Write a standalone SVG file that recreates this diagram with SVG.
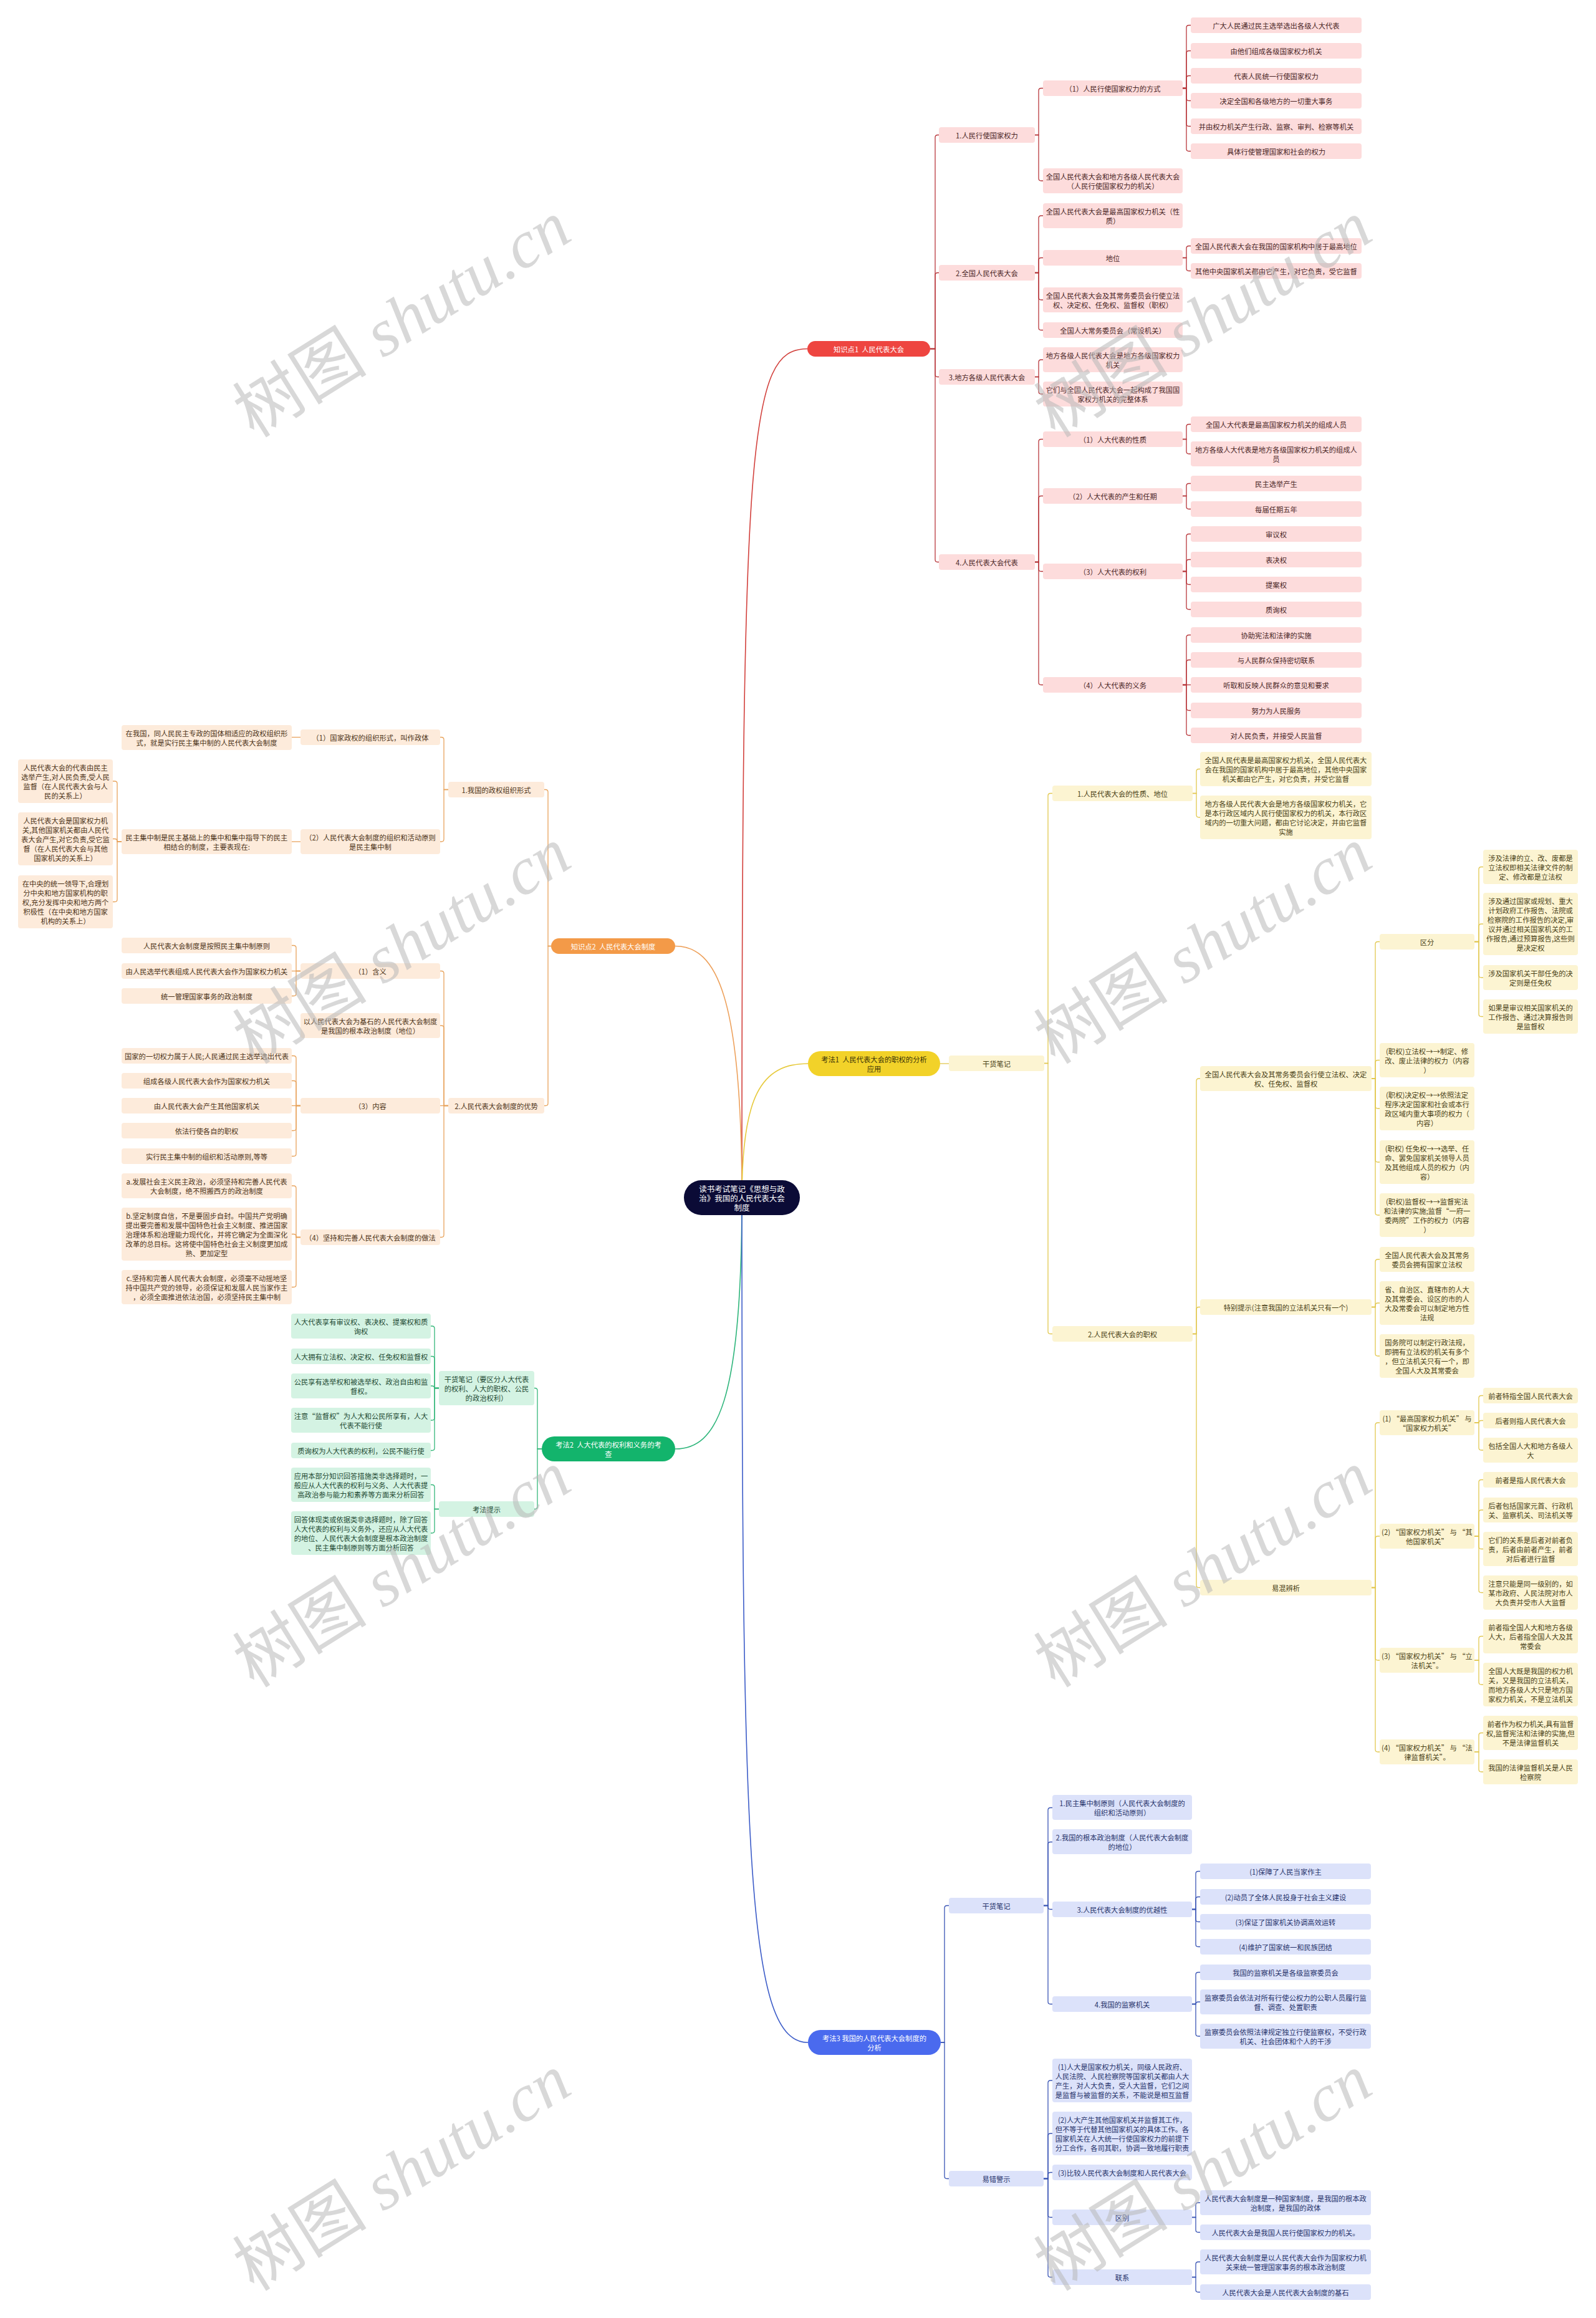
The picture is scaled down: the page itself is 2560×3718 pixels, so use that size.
<svg xmlns="http://www.w3.org/2000/svg" width="2560" height="3718" viewBox="0 0 2560 3718">
<style>
.n rect{rx:4px;ry:4px}
text{font-family:"Noto Sans CJK SC","Liberation Sans",sans-serif;font-size:11.3px;text-anchor:middle;dominant-baseline:central}
.r rect{fill:#FDDCDC}.r text{fill:#4a2626}
.o rect{fill:#FDEBDB}.o text{fill:#4d3418}
.y rect{fill:#FCF4D2}.y text{fill:#4a4216}
.g rect{fill:#D4F3E3}.g text{fill:#1e4a33}
.b rect{fill:#DCE2FA}.b text{fill:#27336b}
.c path{fill:none;stroke-width:1.3}
.cr path{stroke:#B8383C}.co path{stroke:#E8A35C}.cy path{stroke:#E2C850}.cg path{stroke:#35B77A}.cb path{stroke:#3A55B5}
.main path{fill:none;stroke-width:1.6}
.wm{font-family:"Liberation Serif","Noto Sans CJK SC",serif;font-size:108px;fill:#b8b8b8;fill-opacity:0.55;text-anchor:middle;dominant-baseline:central}
</style>
<rect width="2560" height="3718" fill="#ffffff"/>

<g id="connectors">
<g class="main">
<path d="M1190,1921 C1190,700 1200,559.5 1295,559.5" stroke="#D2403C"/>
<path d="M1190,1921 C1190,1600 1150,1517.5 1083,1517.5" stroke="#EDA05A"/>
<path d="M1190,1921 C1190,1760 1220,1706 1296,1706" stroke="#E6C93A"/>
<path d="M1190,1921 C1190,2250 1150,2324 1083,2324" stroke="#2DB57A"/>
<path d="M1190,1921 C1190,3000 1200,3276 1296,3276" stroke="#3C5CC8"/>
</g>
<g class="c cr">
<path d="M1492,559.5H1500V220.5Q1500,216.5 1504,216.5H1506"/>
<path d="M1492,559.5H1500V441.5Q1500,437.5 1504,437.5H1506"/>
<path d="M1492,559.5H1500V600.5Q1500,604.5 1504,604.5H1506"/>
<path d="M1492,559.5H1500V897.5Q1500,901.5 1504,901.5H1506"/>
<path d="M1660,216.5H1666V145.5Q1666,141.5 1670,141.5H1673"/>
<path d="M1660,216.5H1666V286Q1666,290 1670,290H1673"/>
<path d="M1660,437.5H1666V350Q1666,346 1670,346H1673"/>
<path d="M1660,437.5H1666V417.5Q1666,413.5 1670,413.5H1673"/>
<path d="M1660,437.5H1666V477Q1666,481 1670,481H1673"/>
<path d="M1660,437.5H1666V525.5Q1666,529.5 1670,529.5H1673"/>
<path d="M1660,604.5H1666V581Q1666,577 1670,577H1673"/>
<path d="M1660,604.5H1666V628Q1666,632 1670,632H1673"/>
<path d="M1660,901.5H1666V708.5Q1666,704.5 1670,704.5H1673"/>
<path d="M1660,901.5H1666V799.5Q1666,795.5 1670,795.5H1673"/>
<path d="M1660,901.5H1666V912.5Q1666,916.5 1670,916.5H1673"/>
<path d="M1660,901.5H1666V1094.5Q1666,1098.5 1670,1098.5H1673"/>
<path d="M1897,141.5H1903V44.5Q1903,40.5 1907,40.5H1910"/>
<path d="M1897,141.5H1903V85.5Q1903,81.5 1907,81.5H1910"/>
<path d="M1897,141.5H1903V125.5Q1903,121.5 1907,121.5H1910"/>
<path d="M1897,141.5H1903V157.5Q1903,161.5 1907,161.5H1910"/>
<path d="M1897,141.5H1903V198.5Q1903,202.5 1907,202.5H1910"/>
<path d="M1897,141.5H1903V238.5Q1903,242.5 1907,242.5H1910"/>
<path d="M1897,413.5H1903V398.5Q1903,394.5 1907,394.5H1910"/>
<path d="M1897,413.5H1903V430.5Q1903,434.5 1907,434.5H1910"/>
<path d="M1897,704.5H1903V684.5Q1903,680.5 1907,680.5H1910"/>
<path d="M1897,704.5H1903V724Q1903,728 1907,728H1910"/>
<path d="M1897,795.5H1903V779.5Q1903,775.5 1907,775.5H1910"/>
<path d="M1897,795.5H1903V812.5Q1903,816.5 1907,816.5H1910"/>
<path d="M1897,916.5H1903V860.5Q1903,856.5 1907,856.5H1910"/>
<path d="M1897,916.5H1903V901.5Q1903,897.5 1907,897.5H1910"/>
<path d="M1897,916.5H1903V933.5Q1903,937.5 1907,937.5H1910"/>
<path d="M1897,916.5H1903V973.5Q1903,977.5 1907,977.5H1910"/>
<path d="M1897,1098.5H1903V1022.5Q1903,1018.5 1907,1018.5H1910"/>
<path d="M1897,1098.5H1903V1062.5Q1903,1058.5 1907,1058.5H1910"/>
<path d="M1897,1098.5H1910"/>
<path d="M1897,1098.5H1903V1135.5Q1903,1139.5 1907,1139.5H1910"/>
<path d="M1897,1098.5H1903V1175.5Q1903,1179.5 1907,1179.5H1910"/>
</g>
<g class="c cy">
<path d="M1508,1706H1522"/>
<path d="M1675,1705.5H1681V1276.5Q1681,1272.5 1685,1272.5H1688"/>
<path d="M1675,1705.5H1681V2135.5Q1681,2139.5 1685,2139.5H1688"/>
<path d="M1913,1272.5H1919V1237.5Q1919,1233.5 1923,1233.5H1925"/>
<path d="M1913,1272.5H1919V1307Q1919,1311 1923,1311H1925"/>
<path d="M1913,2139.5H1919V1734Q1919,1730 1923,1730H1925"/>
<path d="M1913,2139.5H1919V2100.5Q1919,2096.5 1923,2096.5H1925"/>
<path d="M1913,2139.5H1919V2542.5Q1919,2546.5 1923,2546.5H1925"/>
<path d="M2200,1730H2206V1514.5Q2206,1510.5 2210,1510.5H2213"/>
<path d="M2200,1730H2206V1704.5Q2206,1700.5 2210,1700.5H2213"/>
<path d="M2200,1730H2206V1774Q2206,1778 2210,1778H2213"/>
<path d="M2200,1730H2206V1860Q2206,1864 2210,1864H2213"/>
<path d="M2200,1730H2206V1945Q2206,1949 2210,1949H2213"/>
<path d="M2200,2096.5H2206V2024Q2206,2020 2210,2020H2213"/>
<path d="M2200,2096.5H2206V2094Q2206,2090 2210,2090H2213"/>
<path d="M2200,2096.5H2206V2171Q2206,2175 2210,2175H2213"/>
<path d="M2200,2546.5H2206V2286Q2206,2282 2210,2282H2213"/>
<path d="M2200,2546.5H2206V2468Q2206,2464 2210,2464H2213"/>
<path d="M2200,2546.5H2206V2659Q2206,2663 2210,2663H2213"/>
<path d="M2200,2546.5H2206V2806Q2206,2810 2210,2810H2213"/>
<path d="M2365,1510.5H2372V1394.5Q2372,1390.5 2376,1390.5H2379"/>
<path d="M2365,1510.5H2372V1486Q2372,1482 2376,1482H2379"/>
<path d="M2365,1510.5H2372V1564Q2372,1568 2376,1568H2379"/>
<path d="M2365,1510.5H2372V1626.5Q2372,1630.5 2376,1630.5H2379"/>
<path d="M2365,2282H2372V2242.5Q2372,2238.5 2376,2238.5H2379"/>
<path d="M2365,2282H2372V2282.5Q2372,2278.5 2376,2278.5H2379"/>
<path d="M2365,2282H2372V2322Q2372,2326 2376,2326H2379"/>
<path d="M2365,2464H2372V2377.5Q2372,2373.5 2376,2373.5H2379"/>
<path d="M2365,2464H2372V2426Q2372,2422 2376,2422H2379"/>
<path d="M2365,2464H2372V2480.5Q2372,2484.5 2376,2484.5H2379"/>
<path d="M2365,2464H2372V2550.5Q2372,2554.5 2376,2554.5H2379"/>
<path d="M2365,2663H2372V2628.5Q2372,2624.5 2376,2624.5H2379"/>
<path d="M2365,2663H2372V2698Q2372,2702 2376,2702H2379"/>
<path d="M2365,2810H2372V2783.5Q2372,2779.5 2376,2779.5H2379"/>
<path d="M2365,2810H2372V2838Q2372,2842 2376,2842H2379"/>
</g>
<g class="c co">
<path d="M884,1517.5H879V1270.5Q879,1266.5 875,1266.5H873"/>
<path d="M884,1517.5H879V1769.5Q879,1773.5 875,1773.5H873"/>
<path d="M719,1266.5H712V1186.5Q712,1182.5 708,1182.5H706"/>
<path d="M719,1266.5H712V1346Q712,1350 708,1350H706"/>
<path d="M719,1773.5H712V1561.5Q712,1557.5 708,1557.5H706"/>
<path d="M719,1773.5H712V1649Q712,1645 708,1645H706"/>
<path d="M719,1773.5H706"/>
<path d="M719,1773.5H712V1980.5Q712,1984.5 708,1984.5H706"/>
<path d="M482,1182.5H468"/>
<path d="M482,1350H468"/>
<path d="M482,1557.5H475V1520.5Q475,1516.5 471,1516.5H468"/>
<path d="M482,1557.5H468"/>
<path d="M482,1557.5H475V1593.5Q475,1597.5 471,1597.5H468"/>
<path d="M482,1773.5H475V1697.5Q475,1693.5 471,1693.5H468"/>
<path d="M482,1773.5H475V1737.5Q475,1733.5 471,1733.5H468"/>
<path d="M482,1773.5H468"/>
<path d="M482,1773.5H475V1809.5Q475,1813.5 471,1813.5H468"/>
<path d="M482,1773.5H475V1850.5Q475,1854.5 471,1854.5H468"/>
<path d="M482,1984.5H475V1906Q475,1902 471,1902H468"/>
<path d="M482,1984.5H475V1983.5Q475,1979.5 471,1979.5H468"/>
<path d="M482,1984.5H475V2060.5Q475,2064.5 471,2064.5H468"/>
<path d="M195,1350H188V1257Q188,1253 184,1253H181"/>
<path d="M195,1350H188V1349.5Q188,1345.5 184,1345.5H181"/>
<path d="M195,1350H188V1442.5Q188,1446.5 184,1446.5H181"/>
</g>
<g class="c cg">
<path d="M869,2324H862V2230.5Q862,2226.5 858,2226.5H857"/>
<path d="M869,2324H862V2416.5Q862,2420.5 858,2420.5H857"/>
<path d="M704,2226.5H697V2131Q697,2127 693,2127H691"/>
<path d="M704,2226.5H697V2179.5Q697,2175.5 693,2175.5H691"/>
<path d="M704,2226.5H697V2227Q697,2223 693,2223H691"/>
<path d="M704,2226.5H697V2274Q697,2278 693,2278H691"/>
<path d="M704,2226.5H697V2322.5Q697,2326.5 693,2326.5H691"/>
<path d="M704,2420.5H697V2385.5Q697,2381.5 693,2381.5H691"/>
<path d="M704,2420.5H697V2455Q697,2459 693,2459H691"/>
</g>
<g class="c cb">
<path d="M1509,3276H1515V3060.5Q1515,3056.5 1519,3056.5H1522"/>
<path d="M1509,3276H1515V3490.5Q1515,3494.5 1519,3494.5H1522"/>
<path d="M1674,3056.5H1681V2903.5Q1681,2899.5 1685,2899.5H1688"/>
<path d="M1674,3056.5H1681V2958.5Q1681,2954.5 1685,2954.5H1688"/>
<path d="M1674,3056.5H1681V3058.5Q1681,3062.5 1685,3062.5H1688"/>
<path d="M1674,3056.5H1681V3210.5Q1681,3214.5 1685,3214.5H1688"/>
<path d="M1674,3494.5H1681V3341Q1681,3337 1685,3337H1688"/>
<path d="M1674,3494.5H1681V3426Q1681,3422 1685,3422H1688"/>
<path d="M1674,3494.5H1681V3488.5Q1681,3484.5 1685,3484.5H1688"/>
<path d="M1674,3494.5H1681V3552.5Q1681,3556.5 1685,3556.5H1688"/>
<path d="M1674,3494.5H1681V3648.5Q1681,3652.5 1685,3652.5H1688"/>
<path d="M1912,3062.5H1918V3005.5Q1918,3001.5 1922,3001.5H1925"/>
<path d="M1912,3062.5H1918V3046.5Q1918,3042.5 1922,3042.5H1925"/>
<path d="M1912,3062.5H1918V3078.5Q1918,3082.5 1922,3082.5H1925"/>
<path d="M1912,3062.5H1918V3118.5Q1918,3122.5 1922,3122.5H1925"/>
<path d="M1912,3214.5H1918V3167.5Q1918,3163.5 1922,3163.5H1925"/>
<path d="M1912,3214.5H1918V3215Q1918,3211 1922,3211H1925"/>
<path d="M1912,3214.5H1918V3262Q1918,3266 1922,3266H1925"/>
<path d="M1912,3556.5H1918V3537Q1918,3533 1922,3533H1925"/>
<path d="M1912,3556.5H1918V3576.5Q1918,3580.5 1922,3580.5H1925"/>
<path d="M1912,3652.5H1918V3632Q1918,3628 1922,3628H1925"/>
<path d="M1912,3652.5H1918V3672.5Q1918,3676.5 1922,3676.5H1925"/>
</g>
</g>

<g id="root"><rect x="1097" y="1893" width="186" height="56" rx="28" fill="#0B0B36"/><text fill="#ffffff" style="font-size:12.5px"><tspan x="1190" y="1906">读书考试笔记《思想与政</tspan><tspan x="1190" y="1921">治》我国的人民代表大会</tspan><tspan x="1190" y="1936">制度</tspan></text></g>

<g id="k1"><rect x="1295" y="547" width="197" height="25" rx="12.5" fill="#EE4540"/><text x="1393.5" y="559.5" fill="#ffffff">知识点1&#160;&#160;人民代表大会</text></g>
<g id="k2"><rect x="884" y="1505" width="199" height="25" rx="12.5" fill="#F39A48"/><text x="983.5" y="1517.5" fill="#ffffff">知识点2&#160;&#160;人民代表大会制度</text></g>
<g id="f1"><rect x="1296" y="1686" width="212" height="40" rx="20" fill="#F2D229"/><text fill="#3a3208"><tspan x="1402" y="1698.5">考法1&#160;&#160;人民代表大会的职权的分析</tspan><tspan x="1402" y="1713.5">应用</tspan></text></g>
<g id="f2"><rect x="869" y="2304" width="214" height="40" rx="20" fill="#13B46C"/><text fill="#ffffff"><tspan x="976" y="2316.5">考法2&#160;&#160;人大代表的权利和义务的考</tspan><tspan x="976" y="2331.5">查</tspan></text></g>
<g id="f3"><rect x="1296" y="3256" width="213" height="40" rx="20" fill="#4A6AEE"/><text fill="#ffffff"><tspan x="1402.5" y="3268.5">考法3 我国的人民代表大会制度的</tspan><tspan x="1402.5" y="3283.5">分析</tspan></text></g>

<!-- Red branch -->
<g id="r1" class="n r"><rect x="1506" y="204" width="154" height="25"/><text x="1583" y="216.5">1.人民行使国家权力</text></g>
<g id="r2" class="n r"><rect x="1506" y="425" width="154" height="25"/><text x="1583" y="437.5">2.全国人民代表大会</text></g>
<g id="r3" class="n r"><rect x="1506" y="592" width="154" height="25"/><text x="1583" y="604.5">3.地方各级人民代表大会</text></g>
<g id="r4" class="n r"><rect x="1506" y="889" width="154" height="25"/><text x="1583" y="901.5">4.人民代表大会代表</text></g>
<g id="r1a" class="n r"><rect x="1673" y="129" width="224" height="25"/><text x="1785" y="141.5">（1）人民行使国家权力的方式</text></g>
<g id="r1b" class="n r"><rect x="1673" y="270" width="224" height="40"/><text><tspan x="1785" y="282.5">全国人民代表大会和地方各级人民代表大会</tspan><tspan x="1785" y="297.5">（人民行使国家权力的机关）</tspan></text></g>
<g id="r2a" class="n r"><rect x="1673" y="326" width="224" height="40"/><text><tspan x="1785" y="338.5">全国人民代表大会是最高国家权力机关（性</tspan><tspan x="1785" y="353.5">质）</tspan></text></g>
<g id="r2b" class="n r"><rect x="1673" y="401" width="224" height="25"/><text x="1785" y="413.5">地位</text></g>
<g id="r2c" class="n r"><rect x="1673" y="461" width="224" height="40"/><text><tspan x="1785" y="473.5">全国人民代表大会及其常务委员会行使立法</tspan><tspan x="1785" y="488.5">权、决定权、任免权、监督权（职权）</tspan></text></g>
<g id="r2d" class="n r"><rect x="1673" y="517" width="224" height="25"/><text x="1785" y="529.5">全国人大常务委员会（常设机关）</text></g>
<g id="r3a" class="n r"><rect x="1673" y="557" width="224" height="40"/><text><tspan x="1785" y="569.5">地方各级人民代表大会是地方各级国家权力</tspan><tspan x="1785" y="584.5">机关</tspan></text></g>
<g id="r3b" class="n r"><rect x="1673" y="612" width="224" height="40"/><text><tspan x="1785" y="624.5">它们与全国人民代表大会一起构成了我国国</tspan><tspan x="1785" y="639.5">家权力机关的完整体系</tspan></text></g>
<g id="r4a" class="n r"><rect x="1673" y="692" width="224" height="25"/><text x="1785" y="704.5">（1）人大代表的性质</text></g>
<g id="r4b" class="n r"><rect x="1673" y="783" width="224" height="25"/><text x="1785" y="795.5">（2）人大代表的产生和任期</text></g>
<g id="r4c" class="n r"><rect x="1673" y="904" width="224" height="25"/><text x="1785" y="916.5">（3）人大代表的权利</text></g>
<g id="r4d" class="n r"><rect x="1673" y="1086" width="224" height="25"/><text x="1785" y="1098.5">（4）人大代表的义务</text></g>
<g id="r1a1" class="n r"><rect x="1910" y="28" width="274" height="25"/><text x="2047" y="40.5">广大人民通过民主选举选出各级人大代表</text></g>
<g id="r1a2" class="n r"><rect x="1910" y="69" width="274" height="25"/><text x="2047" y="81.5">由他们组成各级国家权力机关</text></g>
<g id="r1a3" class="n r"><rect x="1910" y="109" width="274" height="25"/><text x="2047" y="121.5">代表人民统一行使国家权力</text></g>
<g id="r1a4" class="n r"><rect x="1910" y="149" width="274" height="25"/><text x="2047" y="161.5">决定全国和各级地方的一切重大事务</text></g>
<g id="r1a5" class="n r"><rect x="1910" y="190" width="274" height="25"/><text x="2047" y="202.5">并由权力机关产生行政、监察、审判、检察等机关</text></g>
<g id="r1a6" class="n r"><rect x="1910" y="230" width="274" height="25"/><text x="2047" y="242.5">具体行使管理国家和社会的权力</text></g>
<g id="r2b1" class="n r"><rect x="1910" y="382" width="274" height="25"/><text x="2047" y="394.5">全国人民代表大会在我国的国家机构中居于最高地位</text></g>
<g id="r2b2" class="n r"><rect x="1910" y="422" width="274" height="25"/><text x="2047" y="434.5">其他中央国家机关都由它产生，对它负责，受它监督</text></g>
<g id="r4a1" class="n r"><rect x="1910" y="668" width="274" height="25"/><text x="2047" y="680.5">全国人大代表是最高国家权力机关的组成人员</text></g>
<g id="r4a2" class="n r"><rect x="1910" y="708" width="274" height="40"/><text><tspan x="2047" y="720.5">地方各级人大代表是地方各级国家权力机关的组成人</tspan><tspan x="2047" y="735.5">员</tspan></text></g>
<g id="r4b1" class="n r"><rect x="1910" y="763" width="274" height="25"/><text x="2047" y="775.5">民主选举产生</text></g>
<g id="r4b2" class="n r"><rect x="1910" y="804" width="274" height="25"/><text x="2047" y="816.5">每届任期五年</text></g>
<g id="r4c1" class="n r"><rect x="1910" y="844" width="274" height="25"/><text x="2047" y="856.5">审议权</text></g>
<g id="r4c2" class="n r"><rect x="1910" y="885" width="274" height="25"/><text x="2047" y="897.5">表决权</text></g>
<g id="r4c3" class="n r"><rect x="1910" y="925" width="274" height="25"/><text x="2047" y="937.5">提案权</text></g>
<g id="r4c4" class="n r"><rect x="1910" y="965" width="274" height="25"/><text x="2047" y="977.5">质询权</text></g>
<g id="r4d1" class="n r"><rect x="1910" y="1006" width="274" height="25"/><text x="2047" y="1018.5">协助宪法和法律的实施</text></g>
<g id="r4d2" class="n r"><rect x="1910" y="1046" width="274" height="25"/><text x="2047" y="1058.5">与人民群众保持密切联系</text></g>
<g id="r4d3" class="n r"><rect x="1910" y="1086" width="274" height="25"/><text x="2047" y="1098.5">听取和反映人民群众的意见和要求</text></g>
<g id="r4d4" class="n r"><rect x="1910" y="1127" width="274" height="25"/><text x="2047" y="1139.5">努力为人民服务</text></g>
<g id="r4d5" class="n r"><rect x="1910" y="1167" width="274" height="25"/><text x="2047" y="1179.5">对人民负责，并接受人民监督</text></g>

<!-- Yellow branch -->
<g id="y0" class="n y"><rect x="1522" y="1693" width="153" height="25"/><text x="1598.5" y="1705.5">干货笔记</text></g>
<g id="y1a" class="n y"><rect x="1688" y="1260" width="225" height="25"/><text x="1800.5" y="1272.5">1.人民代表大会的性质、地位</text></g>
<g id="y1b" class="n y"><rect x="1688" y="2127" width="225" height="25"/><text x="1800.5" y="2139.5">2.人民代表大会的职权</text></g>
<g id="y1a1" class="n y"><rect x="1925" y="1206" width="275" height="55"/><text><tspan x="2062.5" y="1218.5">全国人民代表是最高国家权力机关，全国人民代表大</tspan><tspan x="2062.5" y="1233.5">会在我国的国家机构中居于最高地位，其他中央国家</tspan><tspan x="2062.5" y="1248.5">机关都由它产生，对它负责，并受它监督</tspan></text></g>
<g id="y1a2" class="n y"><rect x="1925" y="1276" width="275" height="70"/><text><tspan x="2062.5" y="1288.5">地方各级人民代表大会是地方各级国家权力机关，它</tspan><tspan x="2062.5" y="1303.5">是本行政区域内人民行使国家权力的机关，本行政区</tspan><tspan x="2062.5" y="1318.5">域内的一切重大问题，都由它讨论决定，并由它监督</tspan><tspan x="2062.5" y="1333.5">实施</tspan></text></g>
<g id="y1b1" class="n y"><rect x="1925" y="1710" width="275" height="40"/><text><tspan x="2062.5" y="1722.5">全国人民代表大会及其常务委员会行使立法权、决定</tspan><tspan x="2062.5" y="1737.5">权、任免权、监督权</tspan></text></g>
<g id="y1b2" class="n y"><rect x="1925" y="2084" width="275" height="25"/><text x="2062.5" y="2096.5">特别提示(注意我国的立法机关只有一个)</text></g>
<g id="y1b3" class="n y"><rect x="1925" y="2534" width="275" height="25"/><text x="2062.5" y="2546.5">易混辨析</text></g>
<g id="y5a" class="n y"><rect x="2213" y="1498" width="152" height="25"/><text x="2289" y="1510.5">区分</text></g>
<g id="y5b" class="n y"><rect x="2213" y="1673" width="152" height="55"/><text><tspan x="2289" y="1685.5">(职权)立法权→→制定、修</tspan><tspan x="2289" y="1700.5">改、废止法律的权力（内容</tspan><tspan x="2289" y="1715.5">）</tspan></text></g>
<g id="y5c" class="n y"><rect x="2213" y="1743" width="152" height="70"/><text><tspan x="2289" y="1755.5">(职权)决定权→→依照法定</tspan><tspan x="2289" y="1770.5">程序决定国家和社会或本行</tspan><tspan x="2289" y="1785.5">政区域内重大事项的权力（</tspan><tspan x="2289" y="1800.5">内容）</tspan></text></g>
<g id="y5d" class="n y"><rect x="2213" y="1829" width="152" height="70"/><text><tspan x="2289" y="1841.5">(职权) 任免权→→选举、任</tspan><tspan x="2289" y="1856.5">命、罢免国家机关领导人员</tspan><tspan x="2289" y="1871.5">及其他组成人员的权力（内</tspan><tspan x="2289" y="1886.5">容）</tspan></text></g>
<g id="y5e" class="n y"><rect x="2213" y="1914" width="152" height="70"/><text><tspan x="2289" y="1926.5">(职权)监督权→→监督宪法</tspan><tspan x="2289" y="1941.5">和法律的实施;监督“一府一</tspan><tspan x="2289" y="1956.5">委两院”工作的权力（内容</tspan><tspan x="2289" y="1971.5">）</tspan></text></g>
<g id="y5f" class="n y"><rect x="2213" y="2000" width="152" height="40"/><text><tspan x="2289" y="2012.5">全国人民代表大会及其常务</tspan><tspan x="2289" y="2027.5">委员会拥有国家立法权</tspan></text></g>
<g id="y5g" class="n y"><rect x="2213" y="2055" width="152" height="70"/><text><tspan x="2289" y="2067.5">省、自治区、直辖市的人大</tspan><tspan x="2289" y="2082.5">及其常委会、设区的市的人</tspan><tspan x="2289" y="2097.5">大及常委会可以制定地方性</tspan><tspan x="2289" y="2112.5">法规</tspan></text></g>
<g id="y5h" class="n y"><rect x="2213" y="2140" width="152" height="70"/><text><tspan x="2289" y="2152.5">国务院可以制定行政法规，</tspan><tspan x="2289" y="2167.5">即拥有立法权的机关有多个</tspan><tspan x="2289" y="2182.5">，但立法机关只有一个，即</tspan><tspan x="2289" y="2197.5">全国人大及其常委会</tspan></text></g>
<g id="y5i" class="n y"><rect x="2213" y="2262" width="152" height="40"/><text><tspan x="2289" y="2274.5">(1) “最高国家权力机关” 与</tspan><tspan x="2289" y="2289.5">“国家权力机关”</tspan></text></g>
<g id="y5j" class="n y"><rect x="2213" y="2444" width="152" height="40"/><text><tspan x="2289" y="2456.5">(2) “国家权力机关” 与 “其</tspan><tspan x="2289" y="2471.5">他国家机关”</tspan></text></g>
<g id="y5k" class="n y"><rect x="2213" y="2643" width="152" height="40"/><text><tspan x="2289" y="2655.5">(3) “国家权力机关” 与 “立</tspan><tspan x="2289" y="2670.5">法机关”。</tspan></text></g>
<g id="y5l" class="n y"><rect x="2213" y="2790" width="152" height="40"/><text><tspan x="2289" y="2802.5">(4) “国家权力机关” 与 “法</tspan><tspan x="2289" y="2817.5">律监督机关”。</tspan></text></g>
<g id="y6a" class="n y"><rect x="2379" y="1363" width="152" height="55"/><text><tspan x="2455" y="1375.5">涉及法律的立、改、废都是</tspan><tspan x="2455" y="1390.5">立法权即相关法律文件的制</tspan><tspan x="2455" y="1405.5">定、修改都是立法权</tspan></text></g>
<g id="y6b" class="n y"><rect x="2379" y="1432" width="152" height="100"/><text><tspan x="2455" y="1444.5">涉及通过国家或规划、重大</tspan><tspan x="2455" y="1459.5">计划政府工作报告、法院或</tspan><tspan x="2455" y="1474.5">检察院的工作报告的决定,审</tspan><tspan x="2455" y="1489.5">议并通过相关国家机关的工</tspan><tspan x="2455" y="1504.5">作报告,通过预算报告,这些则</tspan><tspan x="2455" y="1519.5">是决定权</tspan></text></g>
<g id="y6c" class="n y"><rect x="2379" y="1548" width="152" height="40"/><text><tspan x="2455" y="1560.5">涉及国家机关干部任免的决</tspan><tspan x="2455" y="1575.5">定则是任免权</tspan></text></g>
<g id="y6d" class="n y"><rect x="2379" y="1603" width="152" height="55"/><text><tspan x="2455" y="1615.5">如果是审议相关国家机关的</tspan><tspan x="2455" y="1630.5">工作报告、通过决算报告则</tspan><tspan x="2455" y="1645.5">是监督权</tspan></text></g>
<g id="y6e" class="n y"><rect x="2379" y="2226" width="152" height="25"/><text x="2455" y="2238.5">前者特指全国人民代表大会</text></g>
<g id="y6f" class="n y"><rect x="2379" y="2266" width="152" height="25"/><text x="2455" y="2278.5">后者则指人民代表大会</text></g>
<g id="y6g" class="n y"><rect x="2379" y="2306" width="152" height="40"/><text><tspan x="2455" y="2318.5">包括全国人大和地方各级人</tspan><tspan x="2455" y="2333.5">大</tspan></text></g>
<g id="y6h" class="n y"><rect x="2379" y="2361" width="152" height="25"/><text x="2455" y="2373.5">前者是指人民代表大会</text></g>
<g id="y6i" class="n y"><rect x="2379" y="2402" width="152" height="40"/><text><tspan x="2455" y="2414.5">后者包括国家元首、行政机</tspan><tspan x="2455" y="2429.5">关、监察机关、司法机关等</tspan></text></g>
<g id="y6j" class="n y"><rect x="2379" y="2457" width="152" height="55"/><text><tspan x="2455" y="2469.5">它们的关系是后者对前者负</tspan><tspan x="2455" y="2484.5">责，后者由前者产生，前者</tspan><tspan x="2455" y="2499.5">对后者进行监督</tspan></text></g>
<g id="y6k" class="n y"><rect x="2379" y="2527" width="152" height="55"/><text><tspan x="2455" y="2539.5">注意只能是同一级别的，如</tspan><tspan x="2455" y="2554.5">某市政府、人民法院对市人</tspan><tspan x="2455" y="2569.5">大负责并受市人大监督</tspan></text></g>
<g id="y6l" class="n y"><rect x="2379" y="2597" width="152" height="55"/><text><tspan x="2455" y="2609.5">前者指全国人大和地方各级</tspan><tspan x="2455" y="2624.5">人大，后者指全国人大及其</tspan><tspan x="2455" y="2639.5">常委会</tspan></text></g>
<g id="y6m" class="n y"><rect x="2379" y="2667" width="152" height="70"/><text><tspan x="2455" y="2679.5">全国人大既是我国的权力机</tspan><tspan x="2455" y="2694.5">关，又是我国的立法机关，</tspan><tspan x="2455" y="2709.5">而地方各级人大只是地方国</tspan><tspan x="2455" y="2724.5">家权力机关，不是立法机关</tspan></text></g>
<g id="y6n" class="n y"><rect x="2379" y="2752" width="152" height="55"/><text><tspan x="2455" y="2764.5">前者作为权力机关,具有监督</tspan><tspan x="2455" y="2779.5">权,监督宪法和法律的实施,但</tspan><tspan x="2455" y="2794.5">不是法律监督机关</tspan></text></g>
<g id="y6o" class="n y"><rect x="2379" y="2822" width="152" height="40"/><text><tspan x="2455" y="2834.5">我国的法律监督机关是人民</tspan><tspan x="2455" y="2849.5">检察院</tspan></text></g>

<!-- Orange branch -->
<g id="o1" class="n o"><rect x="719" y="1254" width="154" height="25"/><text x="796" y="1266.5">1.我国的政权组织形式</text></g>
<g id="o2" class="n o"><rect x="719" y="1761" width="154" height="25"/><text x="796" y="1773.5">2.人民代表大会制度的优势</text></g>
<g id="o1a" class="n o"><rect x="482" y="1170" width="224" height="25"/><text x="594" y="1182.5">（1）国家政权的组织形式，叫作政体</text></g>
<g id="o1b" class="n o"><rect x="482" y="1330" width="224" height="40"/><text><tspan x="594" y="1342.5">（2）人民代表大会制度的组织和活动原则</tspan><tspan x="594" y="1357.5">是民主集中制</tspan></text></g>
<g id="o2a" class="n o"><rect x="482" y="1545" width="224" height="25"/><text x="594" y="1557.5">（1）含义</text></g>
<g id="o2b" class="n o"><rect x="482" y="1625" width="224" height="40"/><text><tspan x="594" y="1637.5">以人民代表大会为基石的人民代表大会制度</tspan><tspan x="594" y="1652.5">是我国的根本政治制度（地位）</tspan></text></g>
<g id="o2c" class="n o"><rect x="482" y="1761" width="224" height="25"/><text x="594" y="1773.5">（3）内容</text></g>
<g id="o2d" class="n o"><rect x="482" y="1972" width="224" height="25"/><text x="594" y="1984.5">（4）坚持和完善人民代表大会制度的做法</text></g>
<g id="o1a1" class="n o"><rect x="195" y="1163" width="273" height="40"/><text><tspan x="331.5" y="1175.5">在我国，同人民民主专政的国体相适应的政权组织形</tspan><tspan x="331.5" y="1190.5">式，就是实行民主集中制的人民代表大会制度</tspan></text></g>
<g id="o1b1" class="n o"><rect x="195" y="1330" width="273" height="40"/><text><tspan x="331.5" y="1342.5">民主集中制是民主基础上的集中和集中指导下的民主</tspan><tspan x="331.5" y="1357.5">相结合的制度，主要表现在:</tspan></text></g>
<g id="o2a1" class="n o"><rect x="195" y="1504" width="273" height="25"/><text x="331.5" y="1516.5">人民代表大会制度是按照民主集中制原则</text></g>
<g id="o2a2" class="n o"><rect x="195" y="1545" width="273" height="25"/><text x="331.5" y="1557.5">由人民选举代表组成人民代表大会作为国家权力机关</text></g>
<g id="o2a3" class="n o"><rect x="195" y="1585" width="273" height="25"/><text x="331.5" y="1597.5">统一管理国家事务的政治制度</text></g>
<g id="o2c1" class="n o"><rect x="195" y="1681" width="273" height="25"/><text x="331.5" y="1693.5">国家的一切权力属于人民;人民通过民主选举选出代表</text></g>
<g id="o2c2" class="n o"><rect x="195" y="1721" width="273" height="25"/><text x="331.5" y="1733.5">组成各级人民代表大会作为国家权力机关</text></g>
<g id="o2c3" class="n o"><rect x="195" y="1761" width="273" height="25"/><text x="331.5" y="1773.5">由人民代表大会产生其他国家机关</text></g>
<g id="o2c4" class="n o"><rect x="195" y="1801" width="273" height="25"/><text x="331.5" y="1813.5">依法行使各自的职权</text></g>
<g id="o2c5" class="n o"><rect x="195" y="1842" width="273" height="25"/><text x="331.5" y="1854.5">实行民主集中制的组织和活动原则,等等</text></g>
<g id="o2d1" class="n o"><rect x="195" y="1882" width="273" height="40"/><text><tspan x="331.5" y="1894.5">a.发展社会主义民主政治，必须坚持和完善人民代表</tspan><tspan x="331.5" y="1909.5">大会制度，绝不照搬西方的政治制度</tspan></text></g>
<g id="o2d2" class="n o"><rect x="195" y="1937" width="273" height="85"/><text><tspan x="331.5" y="1949.5">b.坚定制度自信，不是要固步自封。中国共产党明确</tspan><tspan x="331.5" y="1964.5">提出要完善和发展中国特色社会主义制度、推进国家</tspan><tspan x="331.5" y="1979.5">治理体系和治理能力现代化，并将它确定为全面深化</tspan><tspan x="331.5" y="1994.5">改革的总目标。这将使中国特色社会主义制度更加成</tspan><tspan x="331.5" y="2009.5">熟、更加定型</tspan></text></g>
<g id="o2d3" class="n o"><rect x="195" y="2037" width="273" height="55"/><text><tspan x="331.5" y="2049.5">c.坚持和完善人民代表大会制度，必须毫不动摇地坚</tspan><tspan x="331.5" y="2064.5">持中国共产党的领导，必须保证和发展人民当家作主</tspan><tspan x="331.5" y="2079.5">，必须全面推进依法治国，必须坚持民主集中制</tspan></text></g>
<g id="o5a" class="n o"><rect x="29" y="1218" width="152" height="70"/><text><tspan x="105" y="1230.5">人民代表大会的代表由民主</tspan><tspan x="105" y="1245.5">选举产生,对人民负责,受人民</tspan><tspan x="105" y="1260.5">监督（在人民代表大会与人</tspan><tspan x="105" y="1275.5">民的关系上）</tspan></text></g>
<g id="o5b" class="n o"><rect x="29" y="1303" width="152" height="85"/><text><tspan x="105" y="1315.5">人民代表大会是国家权力机</tspan><tspan x="105" y="1330.5">关,其他国家机关都由人民代</tspan><tspan x="105" y="1345.5">表大会产生,对它负责,受它监</tspan><tspan x="105" y="1360.5">督（在人民代表大会与其他</tspan><tspan x="105" y="1375.5">国家机关的关系上）</tspan></text></g>
<g id="o5c" class="n o"><rect x="29" y="1404" width="152" height="85"/><text><tspan x="105" y="1416.5">在中央的统一领导下,合理划</tspan><tspan x="105" y="1431.5">分中央和地方国家机构的职</tspan><tspan x="105" y="1446.5">权,充分发挥中央和地方两个</tspan><tspan x="105" y="1461.5">积极性（在中央和地方国家</tspan><tspan x="105" y="1476.5">机构的关系上）</tspan></text></g>

<!-- Green branch -->
<g id="g1" class="n g"><rect x="704" y="2199" width="153" height="55"/><text><tspan x="780.5" y="2211.5">干货笔记（要区分人大代表</tspan><tspan x="780.5" y="2226.5">的权利、人大的职权、公民</tspan><tspan x="780.5" y="2241.5">的政治权利）</tspan></text></g>
<g id="g2" class="n g"><rect x="704" y="2408" width="153" height="25"/><text x="780.5" y="2420.5">考法提示</text></g>
<g id="g1a" class="n g"><rect x="467" y="2107" width="224" height="40"/><text><tspan x="579" y="2119.5">人大代表享有审议权、表决权、提案权和质</tspan><tspan x="579" y="2134.5">询权</tspan></text></g>
<g id="g1b" class="n g"><rect x="467" y="2163" width="224" height="25"/><text x="579" y="2175.5">人大拥有立法权、决定权、任免权和监督权</text></g>
<g id="g1c" class="n g"><rect x="467" y="2203" width="224" height="40"/><text><tspan x="579" y="2215.5">公民享有选举权和被选举权、政治自由和监</tspan><tspan x="579" y="2230.5">督权。</tspan></text></g>
<g id="g1d" class="n g"><rect x="467" y="2258" width="224" height="40"/><text><tspan x="579" y="2270.5">注意“监督权”为人大和公民所享有，人大</tspan><tspan x="579" y="2285.5">代表不能行使</tspan></text></g>
<g id="g1e" class="n g"><rect x="467" y="2314" width="224" height="25"/><text x="579" y="2326.5">质询权为人大代表的权利，公民不能行使</text></g>
<g id="g2a" class="n g"><rect x="467" y="2354" width="224" height="55"/><text><tspan x="579" y="2366.5">应用本部分知识回答措施类非选择题时，一</tspan><tspan x="579" y="2381.5">般应从人大代表的权利与义务、人大代表提</tspan><tspan x="579" y="2396.5">高政治参与能力和素养等方面来分析回答</tspan></text></g>
<g id="g2b" class="n g"><rect x="467" y="2424" width="224" height="70"/><text><tspan x="579" y="2436.5">回答体现类或依据类非选择题时，除了回答</tspan><tspan x="579" y="2451.5">人大代表的权利与义务外，还应从人大代表</tspan><tspan x="579" y="2466.5">的地位、人民代表大会制度是根本政治制度</tspan><tspan x="579" y="2481.5">、民主集中制原则等方面分析回答</tspan></text></g>

<!-- Blue branch -->
<g id="b1" class="n b"><rect x="1522" y="3044" width="152" height="25"/><text x="1598" y="3056.5">干货笔记</text></g>
<g id="b2" class="n b"><rect x="1522" y="3482" width="152" height="25"/><text x="1598" y="3494.5">易错警示</text></g>
<g id="b1a" class="n b"><rect x="1688" y="2879" width="224" height="40"/><text><tspan x="1800" y="2891.5">1.民主集中制原则（人民代表大会制度的</tspan><tspan x="1800" y="2906.5">组织和活动原则）</tspan></text></g>
<g id="b1b" class="n b"><rect x="1688" y="2934" width="224" height="40"/><text><tspan x="1800" y="2946.5">2.我国的根本政治制度（人民代表大会制度</tspan><tspan x="1800" y="2961.5">的地位）</tspan></text></g>
<g id="b1c" class="n b"><rect x="1688" y="3050" width="224" height="25"/><text x="1800" y="3062.5">3.人民代表大会制度的优越性</text></g>
<g id="b1d" class="n b"><rect x="1688" y="3202" width="224" height="25"/><text x="1800" y="3214.5">4.我国的监察机关</text></g>
<g id="b2a" class="n b"><rect x="1688" y="3302" width="224" height="70"/><text><tspan x="1800" y="3314.5">(1)人大是国家权力机关，同级人民政府、</tspan><tspan x="1800" y="3329.5">人民法院、人民检察院等国家机关都由人大</tspan><tspan x="1800" y="3344.5">产生，对人大负责，受人大监督，它们之间</tspan><tspan x="1800" y="3359.5">是监督与被监督的关系，不能说是相互监督</tspan></text></g>
<g id="b2b" class="n b"><rect x="1688" y="3387" width="224" height="70"/><text><tspan x="1800" y="3399.5">(2)人大产生其他国家机关并监督其工作，</tspan><tspan x="1800" y="3414.5">但不等于代替其他国家机关的具体工作。各</tspan><tspan x="1800" y="3429.5">国家机关在人大统一行使国家权力的前提下</tspan><tspan x="1800" y="3444.5">分工合作，各司其职，协调一致地履行职责</tspan></text></g>
<g id="b2c" class="n b"><rect x="1688" y="3472" width="224" height="25"/><text x="1800" y="3484.5">(3)比较人民代表大会制度和人民代表大会</text></g>
<g id="b2d" class="n b"><rect x="1688" y="3544" width="224" height="25"/><text x="1800" y="3556.5">区别</text></g>
<g id="b2e" class="n b"><rect x="1688" y="3640" width="224" height="25"/><text x="1800" y="3652.5">联系</text></g>
<g id="b1c1" class="n b"><rect x="1925" y="2989" width="274" height="25"/><text x="2062" y="3001.5">(1)保障了人民当家作主</text></g>
<g id="b1c2" class="n b"><rect x="1925" y="3030" width="274" height="25"/><text x="2062" y="3042.5">(2)动员了全体人民投身于社会主义建设</text></g>
<g id="b1c3" class="n b"><rect x="1925" y="3070" width="274" height="25"/><text x="2062" y="3082.5">(3)保证了国家机关协调高效运转</text></g>
<g id="b1c4" class="n b"><rect x="1925" y="3110" width="274" height="25"/><text x="2062" y="3122.5">(4)维护了国家统一和民族团结</text></g>
<g id="b1d1" class="n b"><rect x="1925" y="3151" width="274" height="25"/><text x="2062" y="3163.5">我国的监察机关是各级监察委员会</text></g>
<g id="b1d2" class="n b"><rect x="1925" y="3191" width="274" height="40"/><text><tspan x="2062" y="3203.5">监察委员会依法对所有行使公权力的公职人员履行监</tspan><tspan x="2062" y="3218.5">督、调查、处置职责</tspan></text></g>
<g id="b1d3" class="n b"><rect x="1925" y="3246" width="274" height="40"/><text><tspan x="2062" y="3258.5">监察委员会依照法律规定独立行使监察权，不受行政</tspan><tspan x="2062" y="3273.5">机关、社会团体和个人的干涉</tspan></text></g>
<g id="b2d1" class="n b"><rect x="1925" y="3513" width="274" height="40"/><text><tspan x="2062" y="3525.5">人民代表大会制度是一种国家制度，是我国的根本政</tspan><tspan x="2062" y="3540.5">治制度，是我国的政体</tspan></text></g>
<g id="b2d2" class="n b"><rect x="1925" y="3568" width="274" height="25"/><text x="2062" y="3580.5">人民代表大会是我国人民行使国家权力的机关。</text></g>
<g id="b2e1" class="n b"><rect x="1925" y="3608" width="274" height="40"/><text><tspan x="2062" y="3620.5">人民代表大会制度是以人民代表大会作为国家权力机</tspan><tspan x="2062" y="3635.5">关来统一管理国家事务的根本政治制度</tspan></text></g>
<g id="b2e2" class="n b"><rect x="1925" y="3664" width="274" height="25"/><text x="2062" y="3676.5">人民代表大会是人民代表大会制度的基石</text></g>

<g id="watermarks">
<text class="wm" x="645" y="512" transform="rotate(-32 645 512)">树图 <tspan font-style="italic">shutu.cn</tspan></text>
<text class="wm" x="1930" y="512" transform="rotate(-32 1930 512)">树图 <tspan font-style="italic">shutu.cn</tspan></text>
<text class="wm" x="645" y="1517" transform="rotate(-32 645 1517)">树图 <tspan font-style="italic">shutu.cn</tspan></text>
<text class="wm" x="1930" y="1517" transform="rotate(-32 1930 1517)">树图 <tspan font-style="italic">shutu.cn</tspan></text>
<text class="wm" x="645" y="2517" transform="rotate(-32 645 2517)">树图 <tspan font-style="italic">shutu.cn</tspan></text>
<text class="wm" x="1930" y="2517" transform="rotate(-32 1930 2517)">树图 <tspan font-style="italic">shutu.cn</tspan></text>
<text class="wm" x="645" y="3485" transform="rotate(-32 645 3485)">树图 <tspan font-style="italic">shutu.cn</tspan></text>
<text class="wm" x="1930" y="3485" transform="rotate(-32 1930 3485)">树图 <tspan font-style="italic">shutu.cn</tspan></text>
</g>
</svg>
